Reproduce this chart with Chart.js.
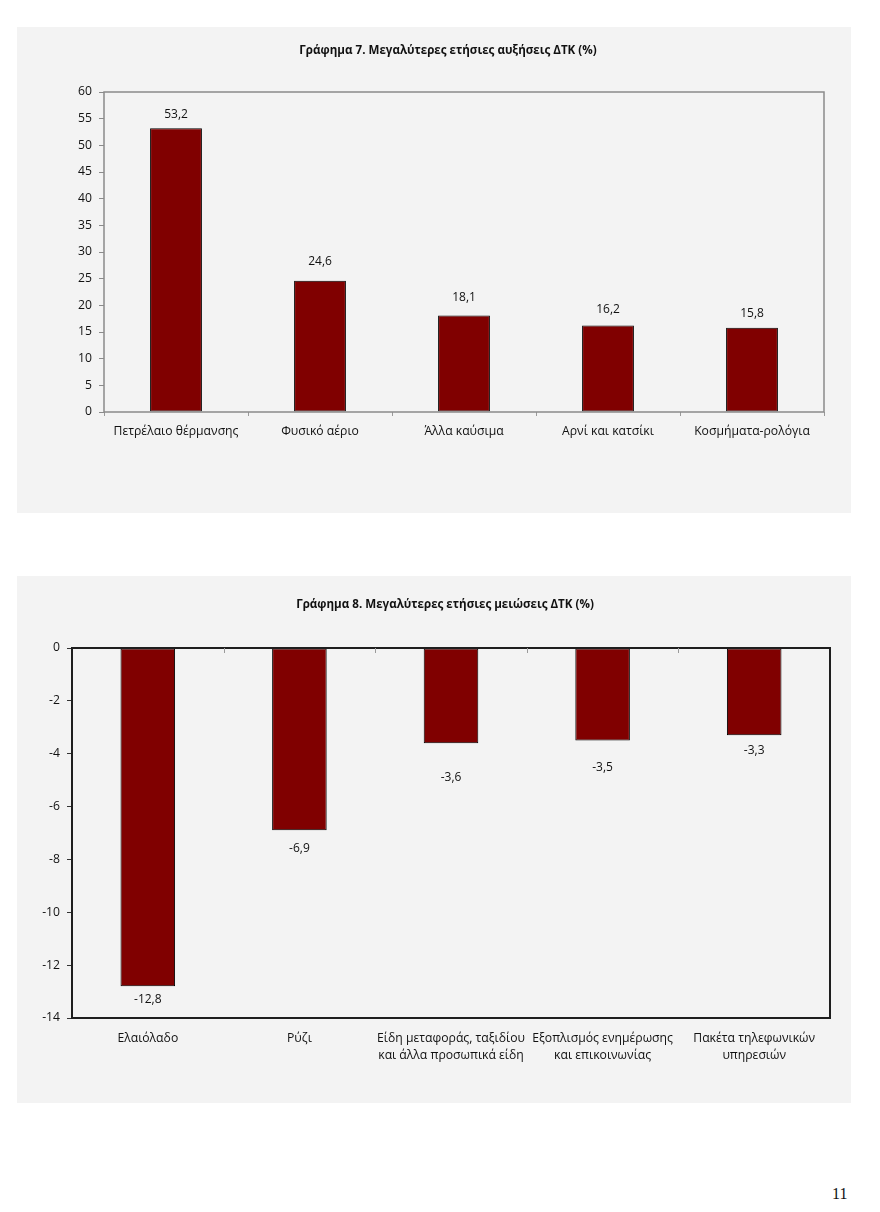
<!DOCTYPE html>
<html>
<head>
<meta charset="utf-8">
<script src="https://cdn.jsdelivr.net/npm/chart.js@4/dist/chart.umd.min.js"></script>
<style>
  body { margin: 0; width: 880px; height: 1212px; background: #fff; position: relative; font-family: 'Open Sans', sans-serif; }
  .panel { position: absolute; left: 17px; width: 834px; background: #f3f3f3; }
  #p1 { top: 27px; height: 486px; }
  #p2 { top: 576px; height: 527px; }
  .title { position: absolute; width: 500px; text-align: center; font-size: 11.6px; font-weight: bold; color: #111; line-height: 14px; }
  #t1 { left: 181px; top: 16px; }
  #t2 { left: 178px; top: 21px; }
  #pageNum { position: absolute; left: 832px; top: 1185px; font-family: 'Liberation Serif', serif; font-size: 16px; color: #111; }
</style>
</head>
<body>
<div class="panel" id="p1"><canvas id="chart1"></canvas><div class="title" id="t1">Γράφημα 7. Μεγαλύτερες ετήσιες αυξήσεις ΔΤΚ (%)</div></div>
<div class="panel" id="p2"><canvas id="chart2"></canvas><div class="title" id="t2">Γράφημα 8. Μεγαλύτερες ετήσιες μειώσεις ΔΤΚ (%)</div></div>
<div id="pageNum">11</div>
<script>
'use strict';

// chart 7 - largest annual increases
let incCategories = ['Πετρέλαιο θέρμανσης', 'Φυσικό αέριο', 'Άλλα καύσιμα', 'Αρνί και κατσίκι', 'Κοσμήματα-ρολόγια'];
let incValues = [53.2, 24.6, 18.1, 16.2, 15.8];
let incTicks = [0, 5, 10, 15, 20, 25, 30, 35, 40, 45, 50, 55, 60];

// chart 8 - largest annual decreases
let decCategories = [
  'Ελαιόλαδο',
  'Ρύζι',
  ['Είδη μεταφοράς, ταξιδίου', 'και άλλα προσωπικά είδη'],
  ['Εξοπλισμός ενημέρωσης', 'και επικοινωνίας'],
  ['Πακέτα τηλεφωνικών', 'υπηρεσιών'],
];
let decValues = [-12.8, -6.9, -3.6, -3.5, -3.3];
let decTicks = [-14, -12, -10, -8, -6, -4, -2, 0];

const FONT = "'Open Sans', sans-serif";
const barColor = '#800000';

function fmt(v) {
  return v.toFixed(1).replace('.', ',');
}

// frame round the plot area + value labels + optional top ticks
const framePlugin = {
  id: 'frame',
  afterDatasetsDraw(chart, args, opts) {
    let ctx = chart.ctx;
    let a = chart.chartArea;
    ctx.save();
    ctx.strokeStyle = opts.color;
    ctx.lineWidth = opts.width;
    ctx.strokeRect(a.left, a.top, a.right - a.left, a.bottom - a.top);

    if (opts.topTicks) {
      let x = chart.scales.x;
      ctx.strokeStyle = '#9a9a9a';
      ctx.lineWidth = 1;
      for (let i = 0; i < chart.data.labels.length - 1; i++) {
        let px = Math.round((x.getPixelForValue(i) + x.getPixelForValue(i + 1)) / 2) + 0.5;
        ctx.beginPath();
        ctx.moveTo(px, a.top);
        ctx.lineTo(px, a.top + 5);
        ctx.stroke();
      }
    }

    // value labels, gap from the bar end as placed in the original
    let meta = chart.getDatasetMeta(0);
    ctx.fillStyle = '#111';
    ctx.font = '12px ' + FONT;
    ctx.textAlign = 'center';
    ctx.textBaseline = 'middle';
    meta.data.forEach((bar, i) => {
      let v = chart.data.datasets[0].data[i];
      let gap = opts.gaps[i];
      let y = v >= 0 ? bar.y - gap : bar.y + gap;
      ctx.fillText(fmt(v), bar.x, y);
    });
    ctx.restore();
  },
};

function makeChart(id, labels, values, ticks, cfg) {
  let ctx = document.getElementById(id).getContext('2d');
  return new Chart(ctx, {
    type: 'bar',
    data: {
      labels: labels,
      datasets: [{
        data: values,
        backgroundColor: barColor,
        borderColor: '#000',
        borderWidth: 1,
        borderSkipped: false,
        barPercentage: 0.36,
        categoryPercentage: 1,
      }],
    },
    options: {
      responsive: true,
      maintainAspectRatio: false,
      animation: false,
      layout: { padding: { left: 0, right: cfg.padRight, top: cfg.padTop, bottom: 0 } },
      plugins: {
        legend: { display: false },
        tooltip: { enabled: false },
        frame: { color: cfg.frameColor, width: cfg.frameWidth, topTicks: cfg.topTicks, gaps: cfg.gaps },
      },
      scales: {
        x: {
          grid: {
            display: !cfg.topTicks,
            drawOnChartArea: false,
            drawTicks: true,
            tickLength: 4,
            color: '#9a9a9a',
            offset: true,
          },
          border: { display: false },
          ticks: {
            color: '#111',
            font: { family: FONT, size: 12.2, lineHeight: 1.4 },
            padding: cfg.xPad,
            maxRotation: 0,
            autoSkip: false,
          },
          afterFit(scale) { scale.height = cfg.xHeight; },
        },
        y: {
          min: ticks[0],
          max: ticks[ticks.length - 1],
          afterBuildTicks(scale) { scale.ticks = ticks.map(v => ({ value: v })); },
          grid: {
            drawOnChartArea: false,
            drawTicks: true,
            tickLength: 5,
            color: cfg.yTickColor,
          },
          border: { display: false },
          ticks: {
            color: '#111',
            font: { family: FONT, size: 12.2 },
            padding: 7,
          },
          afterFit(scale) { scale.width = cfg.yWidth; },
        },
      },
    },
    plugins: [framePlugin],
  });
}

makeChart('chart1', incCategories, incValues, incTicks, {
  padTop: 65,
  padRight: 27,
  yWidth: 87,
  xHeight: 101,
  xPad: 7,
  frameColor: '#8a8a8a',
  frameWidth: 1.5,
  yTickColor: '#8a8a8a',
  topTicks: false,
  gaps: [14, 19, 18, 16, 14],
});

makeChart('chart2', decCategories, decValues, decTicks, {
  padTop: 72,
  padRight: 21,
  yWidth: 55,
  xHeight: 85,
  xPad: 8,
  frameColor: '#1e1e1e',
  frameWidth: 2,
  yTickColor: '#333',
  topTicks: true,
  gaps: [13, 18, 34, 27, 15],
});
</script>
</body>
</html>
